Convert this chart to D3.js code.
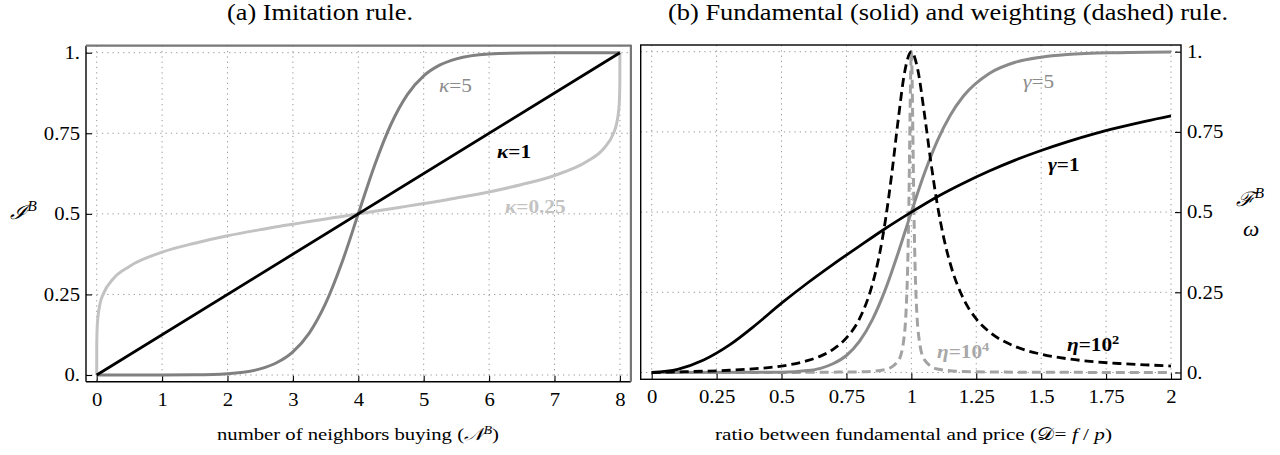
<!DOCTYPE html>
<html>
<head>
<meta charset="utf-8">
<script src="https://cdn.jsdelivr.net/npm/d3@7"></script>
<style>
body{margin:0;background:#fff;}
text{font-family:"Liberation Serif","Times New Roman",serif;fill:#000;}
</style>
</head>
<body>
<svg id="chart" width="1280" height="455"></svg>
<script>
// ---- panel (a): imitation rule ----
var neighbors = [0,0.001,0.01,0.05,0.1,0.25,0.5,1,1.5,2,2.5,2.75,3,3.25,3.5,3.75,4,4.25,4.5,4.75,5,5.25,5.5,6,6.5,7,7.5,7.75,7.9,7.95,7.99,7.999,8];
var imitK025 = [0,0.096,0.158,0.22,0.251,0.298,0.337,0.381,0.409,0.432,0.451,0.46,0.468,0.476,0.484,0.492,0.5,0.508,0.516,0.524,0.532,0.54,0.549,0.568,0.591,0.619,0.663,0.702,0.749,0.78,0.842,0.904,1];
var imitK5 = [0,0,0,0,0,0,0,0.0001,0.0007,0.004,0.019,0.038,0.072,0.13,0.222,0.349,0.5,0.651,0.778,0.87,0.928,0.962,0.981,0.996,0.9993,0.9999,1,1,1,1,1,1,1];
var imitK1N = [0,8];
var imitK1 = [0,1];

// ---- panel (b): fundamental (solid) and weighting (dashed) rule ----
var ratioG1 = [0,0.1,0.2,0.3,0.4,0.5,0.6,0.7,0.8,0.9,1,1.1,1.2,1.3,1.4,1.5,1.6,1.7,1.8,1.9,2];
var fundG1 = [0,0.01,0.039,0.086,0.148,0.216,0.279,0.338,0.394,0.449,0.5,0.548,0.59,0.628,0.662,0.692,0.719,0.743,0.764,0.783,0.8];
var ratioG5 = [0,0.5,0.6,0.65,0.7,0.75,0.8,0.85,0.9,0.95,1,1.05,1.1,1.15,1.2,1.3,1.4,1.5,1.6,1.8,2];
var fundG5 = [0,0.001,0.006,0.013,0.028,0.053,0.097,0.165,0.259,0.375,0.5,0.62,0.722,0.802,0.861,0.932,0.967,0.983,0.991,0.997,0.999];
var ratioEta2 = [0,0.05,0.1,0.2,0.3,0.4,0.5,0.6,0.65,0.7,0.75,0.8,0.85,0.875,0.9,0.925,0.95,0.975,1,1.025,1.05,1.075,1.1,1.125,1.15,1.2,1.25,1.3,1.4,1.5,1.6,1.7,1.8,1.9,2];
var weightEta2 = [0,0.001,0.002,0.004,0.007,0.012,0.02,0.037,0.051,0.073,0.108,0.167,0.275,0.359,0.474,0.622,0.792,0.94,1,0.943,0.808,0.657,0.524,0.419,0.339,0.231,0.167,0.127,0.081,0.057,0.043,0.034,0.028,0.024,0.02];
var ratioEta4 = [0,0.5,0.8,0.9,0.95,0.97,0.98,0.985,0.99,0.995,0.9975,1,1.0025,1.005,1.01,1.015,1.02,1.03,1.05,1.1,1.2,1.5,2];
var weightEta4 = [0,0.0002,0.002,0.009,0.037,0.097,0.197,0.305,0.498,0.799,0.941,1,0.941,0.801,0.503,0.311,0.203,0.103,0.04,0.011,0.003,0.0006,0.0002];

var ticksN = [0,1,2,3,4,5,6,7,8];
var ticksD = [0,0.25,0.5,0.75,1,1.25,1.5,1.75,2];
var ticksY = [0,0.25,0.5,0.75,1];
var labelsY = ["0.","0.25","0.5","0.75","1."];
var labelsD = ["0","0.25","0.5","0.75","1","1.25","1.5","1.75","2"];

var svg = d3.select("#chart");
var black = "#000", midGray = "#808080", lightGray = "#c2c2c2", dashGray = "#a3a3a3";
var SERIF = '"Liberation Serif","Times New Roman",serif';
var STRETCH = 1.15; // the reference type is a bit wider than it is tall

function zip(xs, ys){ return xs.map(function(x,i){ return [x, ys[i]]; }); }

function widen(sel, target){
  sel.each(function(){
    var len = this.getComputedTextLength();
    d3.select(this).attr("textLength", target || len*STRETCH).attr("lengthAdjust","spacingAndGlyphs");
  });
}

function frameOf(x, y, padL, padR, padT, padB){
  return {l: x.range()[0]-padL, r: x.range()[1]+padR, t: y.range()[1]-padT, b: y.range()[0]+padB};
}

function grid(g, x, y, f, xt){
  g.selectAll("line.gx").data(xt).enter().append("line")
    .attr("x1", function(d){return x(d);}).attr("x2", function(d){return x(d);})
    .attr("y1", f.t).attr("y2", f.b)
    .style("stroke","#9a9a9a").style("stroke-width",1).style("stroke-dasharray","1.3,4");
  g.selectAll("line.gy").data(ticksY).enter().append("line")
    .attr("y1", function(d){return y(d);}).attr("y2", function(d){return y(d);})
    .attr("x1", f.l).attr("x2", f.r)
    .style("stroke","#9a9a9a").style("stroke-width",1).style("stroke-dasharray","1.3,4");
}

function styleAxis(a, size){
  a.attr("font-family", SERIF).attr("font-size", size);
  a.select(".domain").remove();
  a.selectAll("text").style("font-family", SERIF).style("font-size", size+"px").attr("fill","#000");
  a.selectAll(".tick line").style("stroke","#000").style("stroke-width",1.1);
  widen(a.selectAll("text"));
}

function curve(g, x, y, xs, ys, color, width, dash, clip){
  var line = d3.line().x(function(d){return x(d[0]);}).y(function(d){return y(d[1]);}).curve(d3.curveMonotoneX);
  g.append("path").datum(zip(xs, ys)).attr("d", line)
    .attr("clip-path","url(#"+clip+")")
    .style("fill","none").style("stroke",color).style("stroke-width",width)
    .style("stroke-dasharray", dash || null).style("stroke-linejoin","round");
}

function label(parts, px, py, color, weight, size, target){
  var t = svg.append("text").attr("x",px).attr("y",py)
    .style("font-size",size+"px").style("font-weight",weight).style("fill",color);
  parts.forEach(function(p){
    var s = t.append("tspan").text(p.t);
    if(p.i) s.style("font-style","italic");
    if(p.sup) s.attr("dy",-size*0.38).style("font-size",(size*0.68)+"px");
    if(p.down) s.attr("dy",size*0.38);
  });
  widen(t, target);
  return t;
}

// ---------- panel (a) ----------
var xA = d3.scaleLinear().domain([0,8]).range([96.7,619.9]);
var yA = d3.scaleLinear().domain([0,1]).range([375,52.7]);
var fA = frameOf(xA, yA, 10.7, 11, 7, 6.7);
var gA = svg.append("g");
svg.append("clipPath").attr("id","clipA").append("rect")
  .attr("x",fA.l).attr("y",fA.t).attr("width",fA.r-fA.l).attr("height",fA.b-fA.t);
grid(gA, xA, yA, fA, ticksN);

var axA1 = gA.append("g").attr("transform","translate("+fA.l+",0)")
  .call(d3.axisLeft(yA).tickValues(ticksY).tickSize(-6).tickPadding(6).tickFormat(function(d,i){return labelsY[i];}));
styleAxis(axA1, 18);
var axA2 = gA.append("g").attr("transform","translate(0,"+fA.b+")")
  .call(d3.axisBottom(xA).tickValues(ticksN).tickSize(-6).tickPadding(12).tickFormat(d3.format("d")));
styleAxis(axA2, 18);

curve(gA, xA, yA, neighbors, imitK025, lightGray, 3, null, "clipA");
curve(gA, xA, yA, neighbors, imitK5, midGray, 3, null, "clipA");
curve(gA, xA, yA, imitK1N, imitK1, black, 2.8, null, "clipA");

gA.append("line").attr("x1",fA.l).attr("x2",fA.r).attr("y1",fA.b).attr("y2",fA.b).style("stroke","#000").style("stroke-width",1.4);
gA.append("line").attr("x1",fA.l).attr("x2",fA.l).attr("y1",fA.t).attr("y2",fA.b).style("stroke","#000").style("stroke-width",1.4);
gA.append("line").attr("x1",fA.l).attr("x2",fA.r).attr("y1",fA.t).attr("y2",fA.t).style("stroke","#777").style("stroke-width",2.2);
gA.append("line").attr("x1",fA.r).attr("x2",fA.r).attr("y1",fA.t-1).attr("y2",fA.b).style("stroke","#777").style("stroke-width",2.2);

// ---------- panel (b) ----------
var xB = d3.scaleLinear().domain([0,2]).range([651.7,1171]);
var yB = d3.scaleLinear().domain([0,1]).range([372.5,51.7]);
var fB = frameOf(xB, yB, 11, 10, 6.7, 6.8);
var gB = svg.append("g");
svg.append("clipPath").attr("id","clipB").append("rect")
  .attr("x",fB.l).attr("y",fB.t).attr("width",fB.r-fB.l).attr("height",fB.b-fB.t);
grid(gB, xB, yB, fB, ticksD);

var axB1 = gB.append("g").attr("transform","translate("+fB.r+",0)")
  .call(d3.axisRight(yB).tickValues(ticksY).tickSize(-6).tickPadding(6).tickFormat(function(d,i){return labelsY[i];}));
styleAxis(axB1, 18);
var axB2 = gB.append("g").attr("transform","translate(0,"+fB.b+")")
  .call(d3.axisBottom(xB).tickValues(ticksD).tickSize(-6).tickPadding(11).tickFormat(function(d,i){return labelsD[i];}));
styleAxis(axB2, 18);

curve(gB, xB, yB, ratioEta4, weightEta4, dashGray, 3, "9,5", "clipB");
curve(gB, xB, yB, ratioG5, fundG5, "#8a8a8a", 3, null, "clipB");
curve(gB, xB, yB, ratioG1, fundG1, black, 2.8, null, "clipB");
curve(gB, xB, yB, ratioEta2, weightEta2, black, 2.8, "9,5", "clipB");

gB.append("rect").attr("x",fB.l).attr("y",fB.t).attr("width",fB.r-fB.l).attr("height",fB.b-fB.t)
  .style("fill","none").style("stroke","#000").style("stroke-width",1.4);

// ---------- titles, axis labels, curve labels ----------
label([{t:"(a) Imitation rule."}], 227, 20, "#000", "normal", 22.5, 186);
label([{t:"(b) Fundamental (solid) and weighting (dashed) rule."}], 668, 20, "#000", "normal", 22.5, 560);

label([{t:"number of neighbors buying ("},{t:"𝒩",i:true},{t:"B",sup:true,i:true},{t:")",down:true}], 217, 440, "#000", "normal", 17, 282);
label([{t:"ratio between fundamental and price ("},{t:"𝒟"},{t:"= "},{t:"f",i:true},{t:" / "},{t:"p",i:true},{t:")"}], 715, 440, "#000", "normal", 17, 397);

label([{t:"ℐ",i:true},{t:"B",sup:true,i:true}], 10, 219, "#000", "normal", 20);
label([{t:"ℱ",i:true},{t:"B",sup:true,i:true}], 1236, 206, "#000", "normal", 20);
label([{t:"ω",i:true}], 1243, 236, "#000", "normal", 20);

label([{t:"κ",i:true},{t:"=5"}], 439, 92, "#8a8a8a", "normal", 18.5);
label([{t:"κ",i:true},{t:"=1"}], 497, 158, "#000", "bold", 18.5);
label([{t:"κ",i:true},{t:"=0.25"}], 505, 213, "#c3c3c3", "bold", 18.5);
label([{t:"γ",i:true},{t:"=5"}], 1023, 88, "#8c8c8c", "normal", 18.5);
label([{t:"γ",i:true},{t:"=1"}], 1048, 171, "#000", "bold", 18.5);
label([{t:"η",i:true},{t:"=10"},{t:"2",sup:true}], 1067, 351, "#000", "bold", 18.5);
label([{t:"η",i:true},{t:"=10"},{t:"4",sup:true}], 937, 358, "#a8a8a8", "bold", 18.5);
</script>
</body>
</html>
